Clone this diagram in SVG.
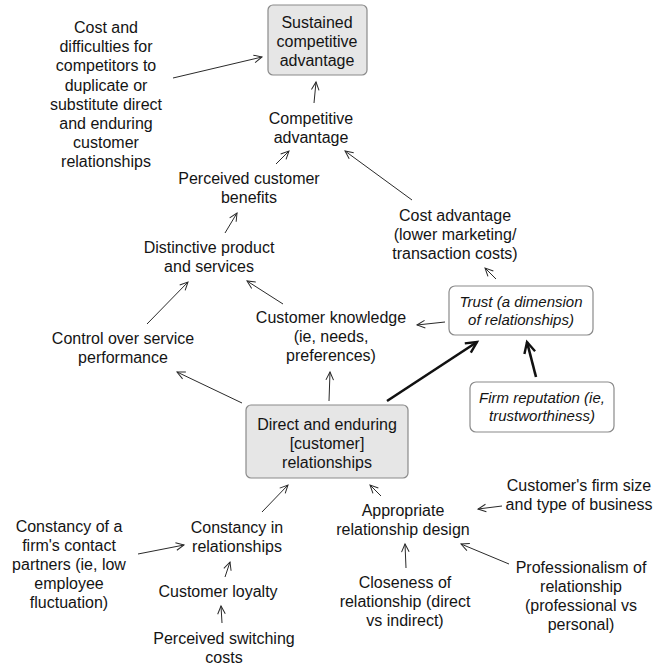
<svg xmlns="http://www.w3.org/2000/svg" width="654" height="668" viewBox="0 0 654 668">
  <style>
    text { font-family: "Liberation Sans", Arial, sans-serif; font-size: 16px; fill: #141414; text-anchor: middle; }
    text.it { font-style: italic; font-size: 15px; }
    .grey { fill: #e6e6e6; stroke: #8a8a8a; stroke-width: 1.2; }
    .white { fill: #ffffff; stroke: #8a8a8a; stroke-width: 1.2; }
    .link { fill: none; stroke: #2a2a2a; stroke-width: 1; marker-end: url(#open); }
    .strong { fill: none; stroke: #111; stroke-width: 2.6; marker-end: url(#openBold); }
  </style>
  <defs>
    <marker id="open" markerUnits="userSpaceOnUse" markerWidth="20" markerHeight="20" viewBox="-10 -10 20 20" refX="0" refY="0" orient="auto">
      <path d="M-8,-3.8 L0,0 L-8,3.8" fill="none" stroke="#2a2a2a" stroke-width="1"/>
    </marker>
    <marker id="openBold" markerUnits="userSpaceOnUse" markerWidth="30" markerHeight="30" viewBox="-15 -15 30 30" refX="0" refY="0" orient="auto">
      <path d="M-11,-5.5 L0,0 L-11,5.5" fill="none" stroke="#111" stroke-width="2.4"/>
    </marker>
  </defs>

  <g id="connectors">
    <line class="link" x1="173" y1="78" x2="262" y2="57"/>
    <line class="link" x1="314" y1="103" x2="316" y2="82"/>
    <line class="link" x1="276" y1="164" x2="289" y2="151"/>
    <line class="link" x1="412" y1="200" x2="345" y2="151"/>
    <line class="link" x1="225" y1="233" x2="237" y2="213"/>
    <line class="link" x1="496" y1="279" x2="485" y2="268"/>
    <line class="link" x1="445" y1="322" x2="417" y2="325"/>
    <line class="link" x1="283" y1="304" x2="247" y2="281"/>
    <line class="link" x1="147" y1="324" x2="188" y2="282"/>
    <line class="link" x1="242" y1="403" x2="177" y2="372"/>
    <line class="link" x1="329" y1="401" x2="330" y2="372"/>
    <line class="strong" x1="387" y1="401" x2="477" y2="342"/>
    <line class="strong" x1="536" y1="377" x2="527" y2="342"/>
    <line class="link" x1="262" y1="512" x2="288" y2="485"/>
    <line class="link" x1="381" y1="496" x2="370" y2="485"/>
    <line class="link" x1="502" y1="506" x2="478" y2="509"/>
    <line class="link" x1="509" y1="564" x2="461" y2="544"/>
    <line class="link" x1="406" y1="568" x2="405" y2="544"/>
    <line class="link" x1="138" y1="554" x2="184" y2="545"/>
    <line class="link" x1="225" y1="577" x2="230" y2="562"/>
    <line class="link" x1="222" y1="623" x2="221" y2="606"/>
  </g>

  <g id="sustained">
    <rect class="grey" x="268" y="5" width="99" height="70" rx="5"/>
    <text x="317" y="27.5">Sustained<tspan x="317" dy="19.2">competitive</tspan><tspan x="317" dy="19.2">advantage</tspan></text>
  </g>

  <g id="duplication-costs">
    <text x="106" y="33">Cost and<tspan x="106" dy="19.2">difficulties for</tspan><tspan x="106" dy="19.2">competitors to</tspan><tspan x="106" dy="19.2">duplicate or</tspan><tspan x="106" dy="19.2">substitute direct</tspan><tspan x="106" dy="19.2">and enduring</tspan><tspan x="106" dy="19.2">customer</tspan><tspan x="106" dy="19.2">relationships</tspan></text>
  </g>

  <g id="competitive">
    <text x="311" y="123.5">Competitive<tspan x="311" dy="19.2">advantage</tspan></text>
  </g>

  <g id="benefits">
    <text x="249" y="183.5">Perceived customer<tspan x="249" dy="19.2">benefits</tspan></text>
  </g>

  <g id="cost-advantage">
    <text x="455" y="220.5">Cost advantage<tspan x="455" dy="19.2">(lower marketing/</tspan><tspan x="455" dy="19.2">transaction costs)</tspan></text>
  </g>

  <g id="distinctive">
    <text x="209" y="252.5">Distinctive product<tspan x="209" dy="19.2">and services</tspan></text>
  </g>

  <g id="trust">
    <rect class="white" x="449" y="286" width="144" height="49" rx="6"/>
    <text class="it" x="521" y="307">Trust (a dimension<tspan x="521" dy="17.8">of relationships)</tspan></text>
  </g>

  <g id="knowledge">
    <text x="331" y="322.5">Customer knowledge<tspan x="331" dy="19.2">(ie, needs,</tspan><tspan x="331" dy="19.2">preferences)</tspan></text>
  </g>

  <g id="control">
    <text x="123" y="343.5">Control over service<tspan x="123" dy="19.2">performance</tspan></text>
  </g>

  <g id="reputation">
    <rect class="white" x="470" y="382" width="144" height="50" rx="6"/>
    <text class="it" x="542" y="403">Firm reputation (ie,<tspan x="542" dy="17.8">trustworthiness)</tspan></text>
  </g>

  <g id="relationships">
    <rect class="grey" x="246" y="405" width="162" height="73" rx="5"/>
    <text x="327" y="429.5">Direct and enduring<tspan x="327" dy="19.2">[customer]</tspan><tspan x="327" dy="19.2">relationships</tspan></text>
  </g>

  <g id="firm-size">
    <text x="579" y="490.5">Customer's firm size<tspan x="579" dy="19.2">and type of business</tspan></text>
  </g>

  <g id="design">
    <text x="403" y="515.5">Appropriate<tspan x="403" dy="19.2">relationship design</tspan></text>
  </g>

  <g id="constancy">
    <text x="237" y="532.5">Constancy in<tspan x="237" dy="19.2">relationships</tspan></text>
  </g>

  <g id="contact-partners">
    <text x="69" y="531.5">Constancy of a<tspan x="69" dy="19.2">firm's contact</tspan><tspan x="69" dy="19.2">partners (ie, low</tspan><tspan x="69" dy="19.2">employee</tspan><tspan x="69" dy="19.2">fluctuation)</tspan></text>
  </g>

  <g id="professionalism">
    <text x="581" y="572.5">Professionalism of<tspan x="581" dy="19.2">relationship</tspan><tspan x="581" dy="19.2">(professional vs</tspan><tspan x="581" dy="19.2">personal)</tspan></text>
  </g>

  <g id="closeness">
    <text x="405" y="587.5">Closeness of<tspan x="405" dy="19.2">relationship (direct</tspan><tspan x="405" dy="19.2">vs indirect)</tspan></text>
  </g>

  <g id="loyalty">
    <text x="218" y="596.5">Customer loyalty</text>
  </g>

  <g id="switching-costs">
    <text x="224" y="643.5">Perceived switching<tspan x="224" dy="19.2">costs</tspan></text>
  </g>
</svg>
